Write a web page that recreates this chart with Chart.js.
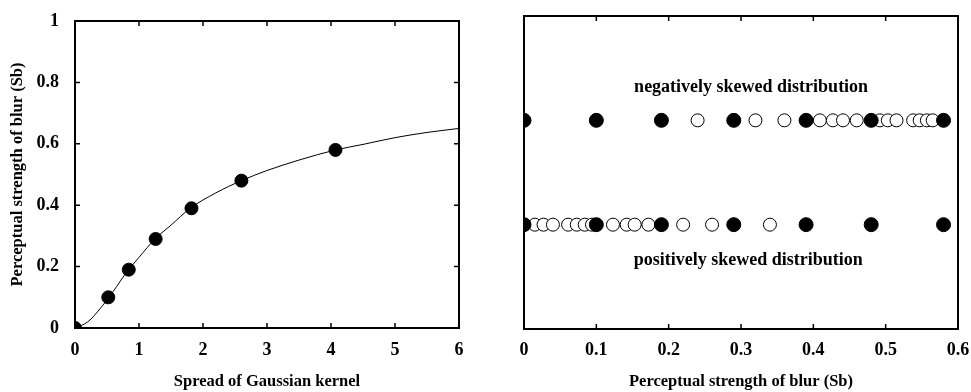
<!DOCTYPE html>
<html>
<head>
<meta charset="utf-8">
<script src="https://cdn.jsdelivr.net/npm/chart.js@4.4.0/dist/chart.umd.min.js"></script>
<style>
  body { margin: 0; background: #fff; }
  #wrap { position: relative; width: 971px; height: 392px; }
  canvas { position: absolute; top: 0; }
</style>
</head>
<body>
<div id="wrap">
  <canvas id="leftChart" width="480" height="392" style="left:0"></canvas>
  <canvas id="rightChart" width="491" height="392" style="left:480px"></canvas>
</div>
<script>
// left panel: measured points
const kernelSpread = [0, 0.52, 0.84, 1.26, 1.82, 2.6, 4.07];
const blurStrength = [0, 0.10, 0.19, 0.29, 0.39, 0.48, 0.58];

// left panel: fitted curve
const curveX = [0, 0.2, 0.4, 0.6, 0.8, 1.0, 1.25, 1.5, 1.8, 2.2, 2.6, 3.0, 3.5, 4.07, 4.5, 5.0, 5.5, 6.0];
const curveY = [0, 0.02, 0.065, 0.12, 0.18, 0.23, 0.29, 0.335, 0.39, 0.44, 0.48, 0.513, 0.547, 0.58, 0.598, 0.62, 0.637, 0.65];

// right panel: two rows of stimuli
const rowPositive = 1 / 3;
const rowNegative = 2 / 3;
const filledPositive = [0, 0.10, 0.19, 0.29, 0.39, 0.48, 0.58];
const openPositive = [0.015, 0.027, 0.04, 0.061, 0.073, 0.084, 0.094, 0.123, 0.142, 0.153, 0.172, 0.22, 0.26, 0.34];
const filledNegative = [0, 0.10, 0.19, 0.29, 0.39, 0.48, 0.58];
const openNegative = [0.24, 0.32, 0.36, 0.409, 0.427, 0.441, 0.46, 0.492, 0.503, 0.515, 0.538, 0.547, 0.557, 0.565];

const leftXTicks = [0, 1, 2, 3, 4, 5, 6];
const leftYTicks = [0, 0.2, 0.4, 0.6, 0.8, 1];
const rightXTicks = [0, 0.1, 0.2, 0.3, 0.4, 0.5, 0.6];

const labelNegative = 'negatively skewed distribution';
const labelPositive = 'positively skewed distribution';

const serif = "'Liberation Serif', 'DejaVu Serif', serif";
const tickFont = { family: serif, size: 18, weight: 'bold' };
const titleFont = { family: serif, size: 16.5, weight: 'bold' };

// frame + inward tick marks on all sides
const framePlugin = {
  id: 'frame',
  afterDraw(chart, args, opts) {
    const { ctx, chartArea: a } = chart;
    ctx.save();
    ctx.strokeStyle = '#000';
    ctx.lineWidth = 1.5;
    const len = 5;
    const xs = chart.scales.x;
    xs.ticks.forEach(t => {
      if (t.value <= xs.min || t.value >= xs.max) return;
      const px = xs.getPixelForValue(t.value);
      ctx.beginPath();
      ctx.moveTo(px, a.bottom); ctx.lineTo(px, a.bottom - len);
      ctx.moveTo(px, a.top); ctx.lineTo(px, a.top + len);
      ctx.stroke();
    });
    if (opts.yTicks) {
      const ys = chart.scales.y;
      ys.ticks.forEach(t => {
        if (t.value <= ys.min || t.value >= ys.max) return;
        const py = ys.getPixelForValue(t.value);
        ctx.beginPath();
        ctx.moveTo(a.left, py); ctx.lineTo(a.left + len, py);
        ctx.moveTo(a.right, py); ctx.lineTo(a.right - len, py);
        ctx.stroke();
      });
    }
    ctx.lineWidth = 2;
    ctx.strokeRect(a.left, a.top, a.right - a.left, a.bottom - a.top);
    ctx.restore();
  }
};

// text labels inside the right panel
const rowLabelPlugin = {
  id: 'rowLabels',
  afterDatasetsDraw(chart, args, opts) {
    if (!opts.items) return;
    const { ctx } = chart;
    ctx.save();
    ctx.fillStyle = '#000';
    ctx.font = 'bold 18px ' + serif;
    ctx.textAlign = 'center';
    ctx.textBaseline = 'middle';
    opts.items.forEach(it => {
      ctx.fillText(it.text, chart.scales.x.getPixelForValue(it.x), chart.scales.y.getPixelForValue(it.y));
    });
    ctx.restore();
  }
};

function fixedTicks(values) {
  return function (scale) {
    scale.ticks = values.map(v => ({ value: v }));
  };
}

function fitX(h) {
  return function (s) {
    s.height = h;
    s.paddingLeft = 0;
    s.paddingRight = 0;
  };
}

new Chart(document.getElementById('leftChart'), {
  type: 'scatter',
  data: {
    datasets: [
      {
        data: kernelSpread.map((x, i) => ({ x: x, y: blurStrength[i] })),
        backgroundColor: '#000',
        borderColor: '#000',
        pointRadius: 6.5,
        showLine: false
      },
      {
        data: curveX.map((x, i) => ({ x: x, y: curveY[i] })),
        showLine: true,
        borderColor: '#000',
        borderWidth: 1,
        pointRadius: 0,
        cubicInterpolationMode: 'monotone'
      }
    ]
  },
  options: {
    responsive: false,
    animation: false,
    devicePixelRatio: 1,
    layout: { padding: { top: 21, right: 21, left: 0, bottom: 0 } },
    plugins: {
      legend: { display: false },
      tooltip: { enabled: false },
      frame: { yTicks: true }
    },
    scales: {
      x: {
        type: 'linear', min: 0, max: 6,
        afterBuildTicks: fixedTicks(leftXTicks),
        afterFit: fitX(64),
        grid: { display: false },
        border: { display: false },
        ticks: { color: '#000', font: tickFont, padding: 4, maxRotation: 0 },
        title: { display: true, text: 'Spread of Gaussian kernel', color: '#000', font: titleFont, padding: { top: 0, bottom: 0 } }
      },
      y: {
        type: 'linear', min: 0, max: 1,
        afterBuildTicks: fixedTicks(leftYTicks),
        afterFit(s) { s.width = 75; },
        grid: { display: false },
        border: { display: false },
        ticks: { color: '#000', font: tickFont, padding: 8, callback: v => String(v) },
        title: { display: true, text: 'Perceptual strength of blur (Sb)', color: '#000', font: titleFont, padding: { top: 8, bottom: 0 } }
      }
    }
  },
  plugins: [framePlugin]
});

new Chart(document.getElementById('rightChart'), {
  type: 'scatter',
  data: {
    datasets: [
      {
        data: filledNegative.map(x => ({ x: x, y: rowNegative }))
          .concat(filledPositive.map(x => ({ x: x, y: rowPositive }))),
        backgroundColor: '#000',
        borderColor: '#000',
        pointRadius: 7
      },
      {
        data: openNegative.map(x => ({ x: x, y: rowNegative }))
          .concat(openPositive.map(x => ({ x: x, y: rowPositive }))),
        backgroundColor: '#fff',
        borderColor: '#000',
        borderWidth: 1,
        pointRadius: 6.5
      }
    ]
  },
  options: {
    responsive: false,
    animation: false,
    devicePixelRatio: 1,
    layout: { padding: { top: 16, right: 13, left: 44, bottom: 0 } },
    plugins: {
      legend: { display: false },
      tooltip: { enabled: false },
      frame: { yTicks: false },
      rowLabels: {
        items: [
          { text: labelNegative, x: 0.314, y: 0.773 },
          { text: labelPositive, x: 0.31, y: 0.22 }
        ]
      }
    },
    scales: {
      x: {
        type: 'linear', min: 0, max: 0.6,
        afterBuildTicks: fixedTicks(rightXTicks),
        afterFit: fitX(63),
        grid: { display: false },
        border: { display: false },
        ticks: { color: '#000', font: tickFont, padding: 3, maxRotation: 0, callback: v => String(v) },
        title: { display: true, text: 'Perceptual strength of blur (Sb)', color: '#000', font: titleFont, padding: { top: 0, bottom: 0 } }
      },
      y: {
        type: 'linear', min: 0, max: 1, display: false
      }
    }
  },
  plugins: [framePlugin, rowLabelPlugin]
});
</script>
</body>
</html>
